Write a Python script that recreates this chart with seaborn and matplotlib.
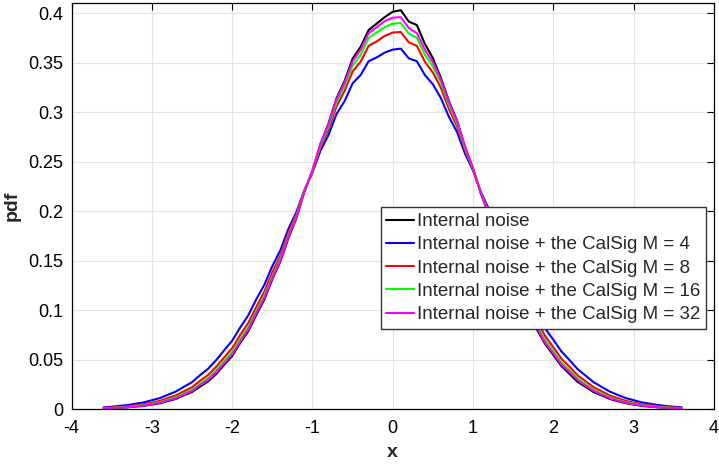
from matplotlib import pyplot as plt
from matplotlib.ticker import FuncFormatter
import numpy as np
import pandas
import seaborn as sns

# x grid of the estimated pdfs
x_vals = [round(-3.6 + 0.1 * i, 1) for i in range(73)]

pdf_internal = [0.0006, 0.0009, 0.0013, 0.0017, 0.0025, 0.0032, 0.0045, 0.0058, 0.0081, 0.0102,
                0.0139, 0.0172, 0.0226, 0.0278, 0.0352, 0.0446, 0.0535, 0.0668, 0.0785, 0.0950,
                0.1105, 0.1312, 0.1490, 0.1725, 0.1930, 0.2195, 0.2410, 0.2675, 0.2885, 0.3140,
                0.3315, 0.3540, 0.3660, 0.3830, 0.3895, 0.3960, 0.4015, 0.4030, 0.3915, 0.3880,
                0.3690, 0.3545, 0.3345, 0.3110, 0.2915, 0.2645, 0.2430, 0.2170, 0.1955, 0.1700,
                0.1510, 0.1290, 0.1120, 0.0935, 0.0795, 0.0655, 0.0545, 0.0435, 0.0355, 0.0276,
                0.0224, 0.0172, 0.0138, 0.0102, 0.0080, 0.0059, 0.0045, 0.0032, 0.0024, 0.0017,
                0.0012, 0.0009, 0.0006]

pdf_m4 = [0.0017, 0.0023, 0.0032, 0.0040, 0.0054, 0.0067, 0.0089, 0.0110, 0.0144, 0.0177,
          0.0225, 0.0271, 0.0342, 0.0406, 0.0493, 0.0593, 0.0690, 0.0823, 0.0945, 0.1108,
          0.1254, 0.1444, 0.1604, 0.1819, 0.1990, 0.2215, 0.2390, 0.2611, 0.2770, 0.2982,
          0.3111, 0.3291, 0.3375, 0.3515, 0.3553, 0.3602, 0.3632, 0.3642, 0.3543, 0.3515,
          0.3375, 0.3281, 0.3141, 0.2952, 0.2800, 0.2581, 0.2410, 0.2190, 0.2015, 0.1794,
          0.1624, 0.1422, 0.1269, 0.1093, 0.0955, 0.0810, 0.0700, 0.0582, 0.0496, 0.0405,
          0.0338, 0.0272, 0.0224, 0.0177, 0.0143, 0.0111, 0.0089, 0.0067, 0.0054, 0.0040,
          0.0031, 0.0023, 0.0017]

pdf_m8 = [0.0011, 0.0015, 0.0021, 0.0027, 0.0038, 0.0048, 0.0065, 0.0082, 0.0111, 0.0137,
          0.0180, 0.0220, 0.0285, 0.0343, 0.0425, 0.0520, 0.0614, 0.0748, 0.0869, 0.1030,
          0.1185, 0.1382, 0.1550, 0.1785, 0.1970, 0.2205, 0.2400, 0.2645, 0.2825, 0.3060,
          0.3215, 0.3410, 0.3510, 0.3670, 0.3715, 0.3770, 0.3805, 0.3810, 0.3705, 0.3670,
          0.3510, 0.3400, 0.3245, 0.3030, 0.2855, 0.2615, 0.2420, 0.2180, 0.1995, 0.1760,
          0.1570, 0.1360, 0.1200, 0.1015, 0.0879, 0.0735, 0.0624, 0.0509, 0.0428, 0.0342,
          0.0281, 0.0221, 0.0179, 0.0137, 0.0110, 0.0083, 0.0065, 0.0048, 0.0038, 0.0027,
          0.0021, 0.0015, 0.0011]

pdf_m16 = [0.0008, 0.0011, 0.0017, 0.0022, 0.0031, 0.0039, 0.0055, 0.0069, 0.0095, 0.0119,
           0.0159, 0.0195, 0.0256, 0.0311, 0.0390, 0.0483, 0.0575, 0.0706, 0.0828, 0.0990,
           0.1145, 0.1342, 0.1520, 0.1755, 0.1950, 0.2205, 0.2410, 0.2665, 0.2855, 0.3100,
           0.3265, 0.3470, 0.3580, 0.3750, 0.3805, 0.3860, 0.3895, 0.3900, 0.3795, 0.3750,
           0.3580, 0.3460, 0.3295, 0.3070, 0.2885, 0.2635, 0.2430, 0.2180, 0.1975, 0.1730,
           0.1540, 0.1320, 0.1160, 0.0975, 0.0838, 0.0693, 0.0585, 0.0472, 0.0393, 0.0311,
           0.0252, 0.0196, 0.0157, 0.0119, 0.0094, 0.0070, 0.0055, 0.0039, 0.0031, 0.0022,
           0.0017, 0.0011, 0.0008]

pdf_m32 = [0.0007, 0.0010, 0.0015, 0.0019, 0.0027, 0.0035, 0.0049, 0.0062, 0.0087, 0.0109,
           0.0147, 0.0182, 0.0241, 0.0294, 0.0371, 0.0461, 0.0551, 0.0681, 0.0802, 0.0968,
           0.1121, 0.1323, 0.1501, 0.1740, 0.1940, 0.2198, 0.2410, 0.2685, 0.2879, 0.3130,
           0.3296, 0.3514, 0.3631, 0.3799, 0.3859, 0.3920, 0.3955, 0.3960, 0.3849, 0.3799,
           0.3631, 0.3504, 0.3326, 0.3100, 0.2909, 0.2655, 0.2430, 0.2173, 0.1965, 0.1715,
           0.1521, 0.1301, 0.1136, 0.0953, 0.0812, 0.0668, 0.0561, 0.0450, 0.0374, 0.0294,
           0.0237, 0.0185, 0.0145, 0.0110, 0.0086, 0.0064, 0.0048, 0.0036, 0.0026, 0.0019,
           0.0014, 0.0010, 0.0007]

labels = ["Internal noise",
          "Internal noise + the CalSig M = 4",
          "Internal noise + the CalSig M = 8",
          "Internal noise + the CalSig M = 16",
          "Internal noise + the CalSig M = 32"]
colors = ["black", "#0000ff", "#ff0000", "#00ff00", "#ff00ff"]
series = [pdf_internal, pdf_m4, pdf_m8, pdf_m16, pdf_m32]

sns.set_style("whitegrid")
plt.rcParams['font.family'] = ['Liberation Sans', 'DejaVu Sans']

fig = plt.figure(figsize=(7.19, 4.65), dpi=100)
ax = fig.add_axes([0.0995, 0.1204, 0.8935, 0.8725])

for lab, col, vals in zip(labels, colors, series):
    df = pandas.DataFrame({'x': x_vals, 'pdf': vals})
    sns.lineplot(data=df, x='x', y='pdf', ax=ax, color=col, linewidth=1.5, label=lab)

ax.set_xlim(-4, 4)
ax.set_ylim(0, 0.41)
ax.set_xticks(np.arange(-4, 5, 1))
ax.set_yticks(np.arange(0, 0.401, 0.05))
ax.yaxis.set_major_formatter(FuncFormatter(lambda v, p: f"{round(v, 2):g}"))
ax.xaxis.set_major_formatter(FuncFormatter(lambda v, p: f"{int(round(v))}"))
ax.tick_params(direction='in', length=5, width=0.8, top=True, right=True,
               labelsize=13, colors='black')
ax.tick_params(axis='x', pad=8)
ax.tick_params(axis='y', pad=6)
ax.grid(True, color='#e3e3e3', linewidth=0.8)
for s in ax.spines.values():
    s.set_color('black')
    s.set_linewidth(0.9)
ax.set_xlabel('x', fontsize=14, fontweight='bold', labelpad=5)
ax.set_ylabel('pdf', fontsize=14, fontweight='bold', labelpad=5)

leg = ax.legend(loc='upper right', bbox_to_anchor=(0.988, 0.497), borderaxespad=0,
                fontsize=13.5, frameon=True, fancybox=False, handlelength=1.45,
                handletextpad=0.2, borderpad=0.3, labelspacing=0.33)
leg.get_frame().set_edgecolor('#333333')
leg.get_frame().set_linewidth(1.0)
leg.get_frame().set_alpha(1)

fig.savefig('out.png', dpi=100)
